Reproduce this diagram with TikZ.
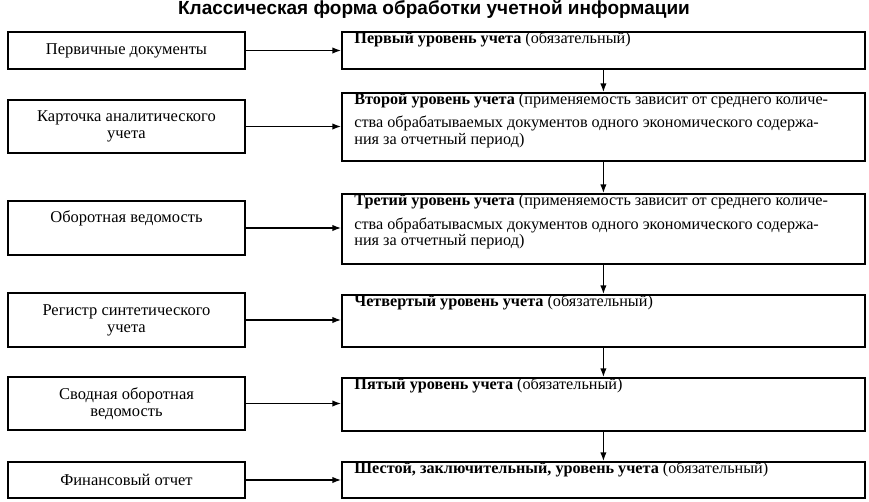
\documentclass[tikz,border=0pt]{standalone}
\usepackage{fontspec}
\setmainfont{Liberation Serif}
\newfontfamily\titlefont{Liberation Sans}
\usetikzlibrary{arrows.meta}
\tikzset{>={Latex[length=3mm,width=2.2mm]}}
\tikzset{
  srcbox/.style={draw, line width=1.4pt, minimum width=237pt, align=center, font=\fontsize{16.5}{17}\selectfont, inner sep=2pt},
  lvlbox/.style={draw, line width=1.8pt, minimum width=523pt, anchor=north west, inner sep=0pt, font=\fontsize{16.2}{16.5}\selectfont}
}
\newcommand{\lvltext}[2]{\parbox[t][#1][t]{510pt}{\raggedright\strut #2}}

\begin{document}
\begin{tikzpicture}[x=1pt,y=-1pt]
      \useasboundingbox (0,0) rectangle (869,501);
      \node[font=\titlefont\bfseries\fontsize{19}{20}\selectfont] (title) at (434,9) {Классическая форма обработки учетной информации};
      % source boxes
      \node[srcbox, minimum height=37pt] (l1) at (126.5,50.5) {Первичные документы};
      \node[srcbox, minimum height=53pt] (l2) at (126.5,126.5) {Карточка аналитического\\учета};
      \node[srcbox, minimum height=54pt] (l3) at (126.5,228) {Оборотная ведомость\\[6pt]\mbox{}};
      \node[srcbox, minimum height=54pt] (l4) at (126.5,320) {Регистр синтетического\\учета};
      \node[srcbox, minimum height=53pt] (l5) at (126.5,403.5) {Сводная оборотная\\ведомость};
      \node[srcbox, minimum height=36pt] (l6) at (126.5,480) {Финансовый отчет};
      % levels
      \node[lvlbox] (r1) at (341,31) {\hspace{12pt}\lvltext{37pt}{\vspace{6pt}\textbf{Первый уровень учета} (обязательный)}};
      \node[lvlbox] (r2) at (341,92) {\hspace{12pt}\lvltext{68pt}{\vspace{6pt}\textbf{Второй уровень учета} (применяемость зависит от среднего количе-\\ства обрабатываемых документов одного экономического содержа-\\ния за отчетный период)}};
      \node[lvlbox] (r3) at (341,193) {\hspace{12pt}\lvltext{70pt}{\vspace{6pt}\textbf{Третий уровень учета} (применяемость зависит от среднего количе-\\ства обрабатывасмых документов одного экономического содержа-\\ния за отчетный период)}};
      \node[lvlbox] (r4) at (341,294) {\hspace{12pt}\lvltext{52pt}{\vspace{6pt}\textbf{Четвертый уровень учета} (обязательный)}};
      \node[lvlbox] (r5) at (341,377) {\hspace{12pt}\lvltext{53pt}{\vspace{6pt}\textbf{Пятый уровень учета} (обязательный)}};
      \node[lvlbox] (r6) at (341,461) {\hspace{12pt}\lvltext{36pt}{\vspace{6pt}\textbf{Шестой, заключительный, уровень учета} (обязательный)}};
      % arrows
      \foreach \i in {1,...,6}
        \draw[->, line width=1.2pt] (l\i.east) -- (l\i.east -| r\i.west);
      \foreach \i/\j in {1/2,2/3,3/4,4/5,5/6}
        \draw[->, line width=1.2pt] (r\i.south) -- (r\j.north);
\end{tikzpicture}
\end{document}
